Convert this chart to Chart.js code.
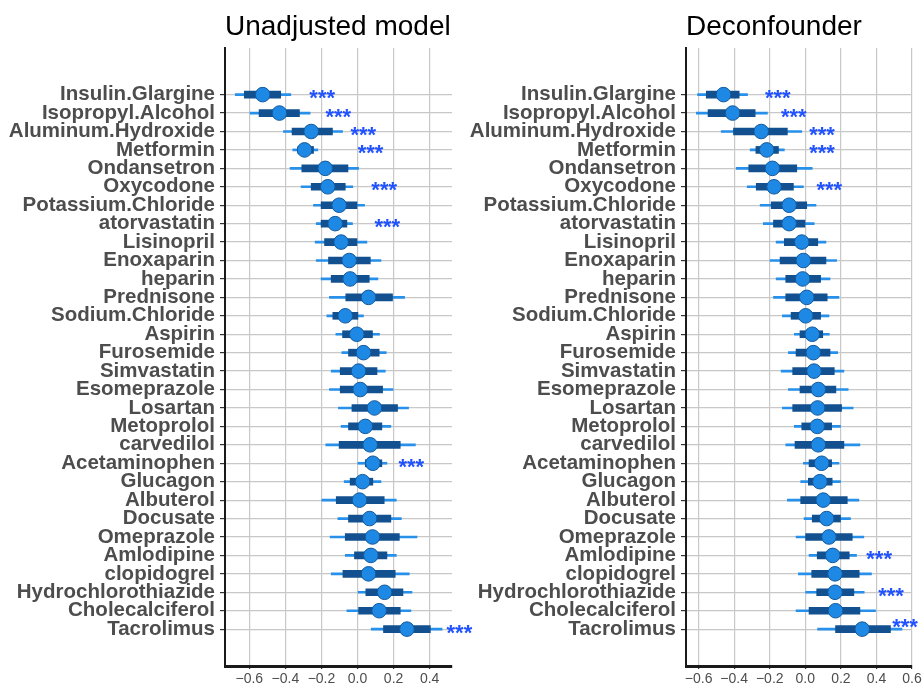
<!DOCTYPE html>
<html>
<head>
<meta charset="utf-8">
<script src="https://cdn.jsdelivr.net/npm/chart.js@4"></script>
<style>
  body { margin: 0; background: #fff; }
  .panel { position: absolute; top: 0; }
</style>
</head>
<body>
<div class="panel" style="left:0px"><canvas id="leftChart" width="490" height="686"></canvas></div>
<div class="panel" style="left:460px"><canvas id="rightChart" width="463" height="686"></canvas></div>
<script>
// drugs, top to bottom
const drugs = ['Insulin.Glargine', 'Isopropyl.Alcohol', 'Aluminum.Hydroxide', 'Metformin', 'Ondansetron',
  'Oxycodone', 'Potassium.Chloride', 'atorvastatin', 'Lisinopril', 'Enoxaparin', 'heparin', 'Prednisone',
  'Sodium.Chloride', 'Aspirin', 'Furosemide', 'Simvastatin', 'Esomeprazole', 'Losartan', 'Metoprolol',
  'carvedilol', 'Acetaminophen', 'Glucagon', 'Albuterol', 'Docusate', 'Omeprazole', 'Amlodipine',
  'clopidogrel', 'Hydrochlorothiazide', 'Cholecalciferol', 'Tacrolimus'];

// Unadjusted model
const unadjEst  = [-0.526, -0.433, -0.257, -0.294, -0.179, -0.165, -0.102, -0.124, -0.091, -0.046, -0.041, 0.061, -0.068, -0.004, 0.033, 0.006, 0.015, 0.094, 0.043, 0.070, 0.085, 0.028, 0.011, 0.067, 0.083, 0.074, 0.061, 0.150, 0.120, 0.274];
const unadjLo50 = [-0.628, -0.546, -0.363, -0.331, -0.309, -0.257, -0.202, -0.202, -0.183, -0.161, -0.146, -0.065, -0.137, -0.083, -0.050, -0.096, -0.096, -0.031, -0.050, -0.102, 0.043, -0.041, -0.118, -0.050, -0.068, -0.017, -0.081, 0.046, 0.006, 0.144];
const unadjHi50 = [-0.426, -0.322, -0.139, -0.244, -0.053, -0.068, -0.003, -0.059, 0.000, 0.071, 0.065, 0.194, 0.002, 0.083, 0.120, 0.108, 0.139, 0.222, 0.135, 0.237, 0.135, 0.085, 0.148, 0.185, 0.232, 0.163, 0.209, 0.252, 0.237, 0.404];
const unadjLo95 = [-0.678, -0.596, -0.411, -0.359, -0.374, -0.313, -0.244, -0.229, -0.235, -0.229, -0.202, -0.156, -0.170, -0.120, -0.087, -0.146, -0.156, -0.106, -0.091, -0.176, 0.002, -0.074, -0.198, -0.109, -0.152, -0.068, -0.146, 0.000, -0.059, 0.076];
const unadjHi95 = [-0.370, -0.263, -0.083, -0.220, 0.006, -0.026, 0.039, -0.028, 0.052, 0.130, 0.113, 0.261, 0.033, 0.122, 0.159, 0.154, 0.197, 0.283, 0.185, 0.321, 0.163, 0.130, 0.215, 0.243, 0.330, 0.215, 0.287, 0.302, 0.296, 0.469];
const unadjStarDrugs = ['Insulin.Glargine', 'Isopropyl.Alcohol', 'Aluminum.Hydroxide', 'Metformin', 'Oxycodone', 'atorvastatin', 'Acetaminophen', 'Tacrolimus'];
const unadjStarX     = [-0.196, -0.107, 0.032, 0.072, 0.148, 0.165, 0.298, 0.565];
const unadjStarShift = [0, 0, 0, 0, 0, 0, 0, 0];

// Deconfounder
const deconfEst  = [-0.460, -0.409, -0.248, -0.217, -0.185, -0.176, -0.091, -0.091, -0.020, -0.011, -0.015, 0.008, 0.002, 0.039, 0.045, 0.049, 0.073, 0.069, 0.067, 0.073, 0.092, 0.082, 0.101, 0.120, 0.133, 0.154, 0.167, 0.167, 0.170, 0.320];
const deconfLo50 = [-0.557, -0.547, -0.404, -0.278, -0.318, -0.276, -0.192, -0.179, -0.118, -0.142, -0.110, -0.110, -0.080, -0.030, -0.052, -0.071, -0.030, -0.071, -0.020, -0.058, 0.021, 0.017, -0.026, 0.039, 0.002, 0.067, 0.036, 0.064, 0.021, 0.170];
const deconfHi50 = [-0.372, -0.282, -0.101, -0.151, -0.048, -0.067, 0.008, -0.002, 0.070, 0.116, 0.086, 0.123, 0.086, 0.098, 0.139, 0.163, 0.172, 0.204, 0.148, 0.217, 0.148, 0.151, 0.236, 0.198, 0.264, 0.247, 0.303, 0.273, 0.307, 0.479];
const deconfLo95 = [-0.606, -0.613, -0.473, -0.310, -0.389, -0.327, -0.254, -0.236, -0.164, -0.198, -0.164, -0.179, -0.129, -0.062, -0.095, -0.136, -0.095, -0.129, -0.062, -0.110, -0.011, -0.026, -0.101, -0.007, -0.052, 0.021, -0.039, 0.002, -0.052, 0.069];
const deconfHi95 = [-0.325, -0.213, -0.020, -0.118, 0.039, -0.011, 0.060, 0.050, 0.116, 0.176, 0.139, 0.189, 0.133, 0.135, 0.182, 0.217, 0.241, 0.269, 0.198, 0.307, 0.189, 0.198, 0.301, 0.254, 0.329, 0.288, 0.372, 0.331, 0.395, 0.544];
const deconfStarDrugs = ['Insulin.Glargine', 'Isopropyl.Alcohol', 'Aluminum.Hydroxide', 'Metformin', 'Oxycodone', 'Amlodipine', 'Hydrochlorothiazide', 'Tacrolimus'];
const deconfStarX     = [-0.155, -0.065, 0.094, 0.094, 0.135, 0.415, 0.482, 0.561];
const deconfStarShift = [0, 0, 0, 0, 0, 0, 0, 0.29];

const unadjTicks = [-0.6, -0.4, -0.2, 0.0, 0.2, 0.4];
const deconfTicks = [-0.6, -0.4, -0.2, 0.0, 0.2, 0.4, 0.6];

const FONT = '"Liberation Sans", Arial, Helvetica, sans-serif';

function rowPos(i) { return drugs.length - i; }

function fmtTick(v) {
    const s = (Math.abs(v) < 1e-9 ? 0 : v).toFixed(1);
    return s.replace('-', '\u2212');
}

// etiquetas *** de significancia
const starPlugin = {
    id: 'stars',
    afterDatasetsDraw(chart, args, opts) {
        const ctx = chart.ctx, x = chart.scales.x, y = chart.scales.y;
        ctx.save();
        ctx.font = 'bold 22px ' + FONT;
        ctx.fillStyle = '#2152ff';
        ctx.textAlign = 'center';
        ctx.textBaseline = 'alphabetic';
        const m = ctx.measureText('***');
        const off = (m.actualBoundingBoxAscent - m.actualBoundingBoxDescent) / 2;
        opts.names.forEach((n, k) => {
            const row = rowPos(drugs.indexOf(n)) + opts.shift[k];
            ctx.fillText('***', x.getPixelForValue(opts.xs[k]), y.getPixelForValue(row) + off);
        });
        ctx.restore();
    }
};

const titlePlugin = {
    id: 'panelTitle',
    afterDraw(chart, args, opts) {
        const ctx = chart.ctx;
        ctx.save();
        ctx.font = '28px ' + FONT;
        ctx.fillStyle = '#000';
        ctx.textAlign = 'left';
        ctx.textBaseline = 'alphabetic';
        ctx.fillText(opts.text, chart.chartArea.left, 35);
        ctx.restore();
    }
};

function dibujarPanel(id, title, est, lo50, hi50, lo95, hi95, starNames, starX, starShift, xMin, xMax, xTicks, leftW, rightPad) {
    const thin = drugs.map((d, i) => ({ x: [lo95[i], hi95[i]], y: rowPos(i) }));
    const thick = drugs.map((d, i) => ({ x: [lo50[i], hi50[i]], y: rowPos(i) }));
    const pts = drugs.map((d, i) => ({ x: est[i], y: rowPos(i) }));

    new Chart(document.getElementById(id), {
        type: 'bar',
        data: {
            datasets: [
                { type: 'scatter', data: pts, order: 0, pointRadius: 7.3, pointBackgroundColor: '#1e88e5',
                  pointBorderColor: '#14589a', pointBorderWidth: 1 },
                { type: 'bar', data: thick, order: 1, indexAxis: 'y', grouped: false, barThickness: 7,
                  backgroundColor: '#12508f', borderWidth: 0 },
                { type: 'bar', data: thin, order: 2, indexAxis: 'y', grouped: false, barThickness: 2,
                  backgroundColor: '#2790ea', borderWidth: 0 }
            ]
        },
        options: {
            responsive: false,
            animation: false,
            indexAxis: 'y',
            layout: { padding: { top: 48, right: rightPad, bottom: 0, left: 0 } },
            scales: {
                x: {
                    type: 'linear', position: 'bottom', min: xMin, max: xMax, offset: false,
                    afterBuildTicks: s => { s.ticks = xTicks.map(v => ({ value: v })); },
                    afterFit: s => { s.height = 20; s.paddingLeft = 0; s.paddingRight = 0; },
                    ticks: { callback: v => fmtTick(v), autoSkip: false, maxRotation: 0, padding: 2,
                             color: '#4d4d4d', font: { size: 14, family: FONT } },
                    grid: { offset: false, color: '#c8c8c8', lineWidth: 1.2, drawTicks: true, tickLength: 3, tickColor: '#333' },
                    border: { display: true, color: '#1a1a1a', width: 3 }
                },
                y: {
                    type: 'linear', position: 'left', min: -1, max: 32.53, offset: false,
                    afterBuildTicks: s => { s.ticks = drugs.map((d, i) => ({ value: rowPos(i) })); },
                    afterFit: s => { s.width = leftW; },
                    ticks: { callback: v => drugs[drugs.length - v], autoSkip: false, padding: 5,
                             color: '#4d4d4d', font: { size: 20.5, weight: 'bold', family: FONT } },
                    grid: { offset: false, color: '#c8c8c8', lineWidth: 1.2, drawTicks: true, tickLength: 5, tickColor: '#333' },
                    border: { display: true, color: '#1a1a1a', width: 2 }
                }
            },
            plugins: {
                legend: { display: false },
                tooltip: { enabled: false },
                stars: { names: starNames, xs: starX, shift: starShift },
                panelTitle: { text: title }
            }
        },
        plugins: [starPlugin, titlePlugin]
    });
}

dibujarPanel('leftChart', 'Unadjusted model', unadjEst, unadjLo50, unadjHi50, unadjLo95, unadjHi95,
    unadjStarDrugs, unadjStarX, unadjStarShift, -0.735, 0.524, unadjTicks, 225, 38);
dibujarPanel('rightChart', 'Deconfounder', deconfEst, deconfLo50, deconfHi50, deconfLo95, deconfHi95,
    deconfStarDrugs, deconfStarX, deconfStarShift, -0.671, 0.6, deconfTicks, 226, 11);
</script>
</body>
</html>
